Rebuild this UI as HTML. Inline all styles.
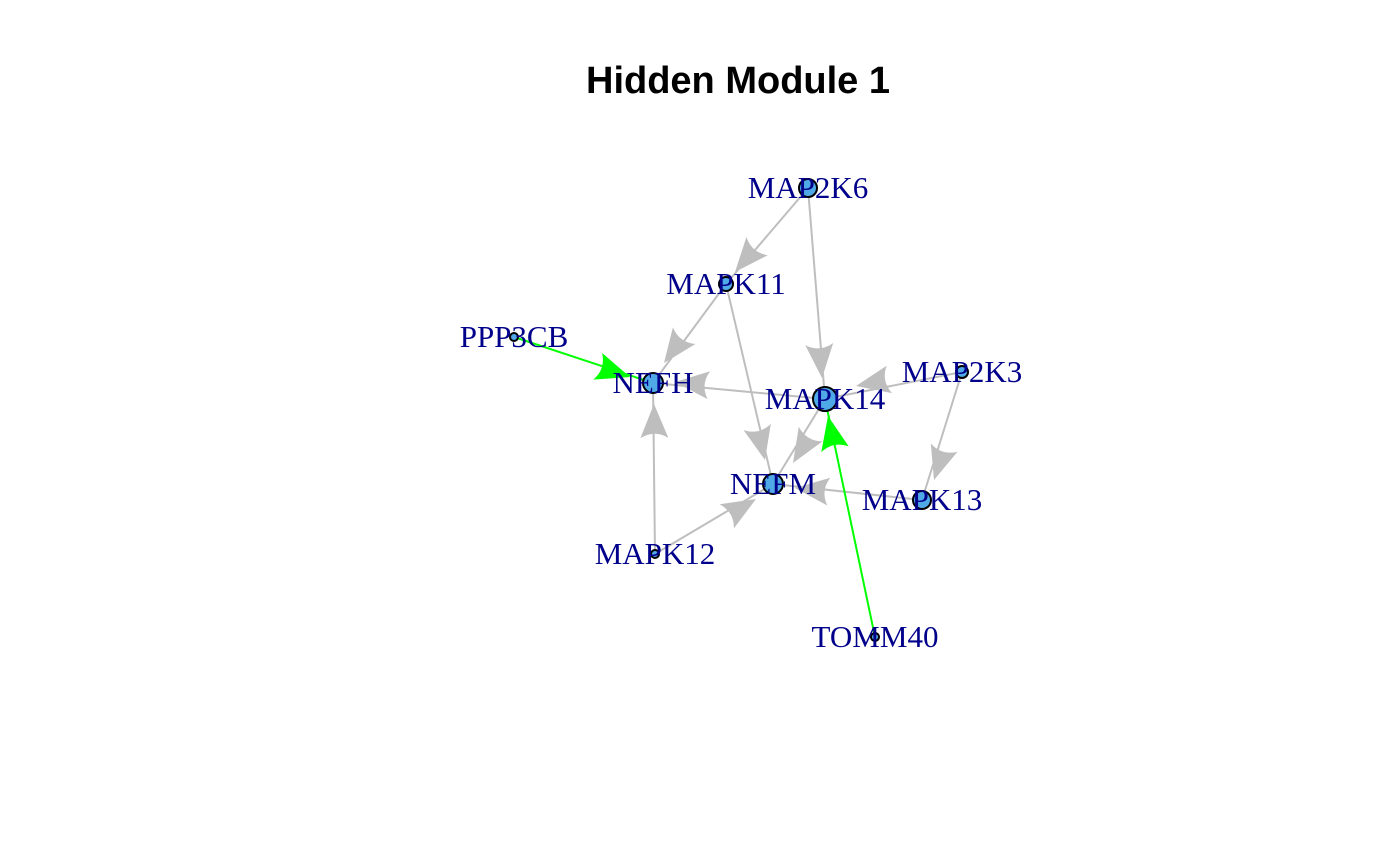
<!DOCTYPE html>
<html><head><meta charset="utf-8"><style>
html,body{margin:0;padding:0;background:#fff;}
svg{display:block;}
</style></head><body>
<svg id="s" width="1400" height="865" viewBox="0 0 1400 865" xmlns="http://www.w3.org/2000/svg">
<text x="738" y="93" text-anchor="middle" font-family="Liberation Sans, sans-serif" font-weight="bold" font-size="38">Hidden Module 1</text>
<g id="edges"></g><g id="nodes"></g><g id="labels"></g>
</svg>
<script>
var N={MAP2K6:[808,188,9],MAPK11:[726,284,7],PPP3CB:[514,337,4],NEFH:[653,383,10],MAPK14:[825,399,12],MAP2K3:[962,372,6],NEFM:[773,484,10],MAPK13:[922,500,9],MAPK12:[655,554,4],TOMM40:[875,637,4]};
var E=[["MAP2K6","MAPK11",[735,272],"#BEBEBE"],["MAP2K6","MAPK14",[822,378],"#BEBEBE"],["MAPK11","NEFH",[664,363],"#BEBEBE"],["MAPK11","NEFM",[765,460],"#BEBEBE"],["MAPK14","NEFH",[675,382],"#BEBEBE"],["MAPK14","NEFM",[793,463],"#BEBEBE"],["MAP2K3","MAPK14",[856,386],"#BEBEBE"],["MAP2K3","MAPK13",[934,480],"#BEBEBE"],["MAPK13","NEFM",[795,488],"#BEBEBE"],["MAPK12","NEFH",[654,404],"#BEBEBE"],["MAPK12","NEFM",[756,499],"#BEBEBE"],["PPP3CB","NEFH",[630,377],"#00FF00"],["TOMM40","MAPK14",[828,416],"#00FF00"]];
var ns="http://www.w3.org/2000/svg",eg=document.getElementById("edges"),ng=document.getElementById("nodes"),lg=document.getElementById("labels");
function el(t,a,p){var e=document.createElementNS(ns,t);for(var k in a)e.setAttribute(k,a[k]);p.appendChild(e);return e;}
E.forEach(function(d){var a=N[d[0]],b=N[d[1]],t=d[2];var dx=b[0]-a[0],dy=b[1]-a[1],L=Math.hypot(dx,dy);var ux=dx/L,uy=dy/L,px=-uy,py=ux;
var L2=34,W=14;var bx=t[0]-ux*L2,by=t[1]-uy*L2;
el("line",{x1:a[0],y1:a[1],x2:b[0],y2:b[1],stroke:d[3],"stroke-width":2},eg);
var cx=t[0]-ux*L2*0.75,cy=t[1]-uy*L2*0.75;
el("path",{d:"M"+t[0]+","+t[1]+" L"+(bx+px*W)+","+(by+py*W)+" Q"+cx+","+cy+" "+(bx-px*W)+","+(by-py*W)+" Z",fill:d[3]},eg);});
for(var k in N){var n=N[k];el("circle",{cx:n[0],cy:n[1],r:n[2],fill:"#4FA9E6",stroke:"#000","stroke-width":2},ng);
var t=el("text",{x:n[0],y:n[1]+10,"text-anchor":"middle","font-family":"Liberation Serif, serif","font-size":"31",fill:"#00008B"},lg);t.textContent=k;}
</script>
</body></html>
